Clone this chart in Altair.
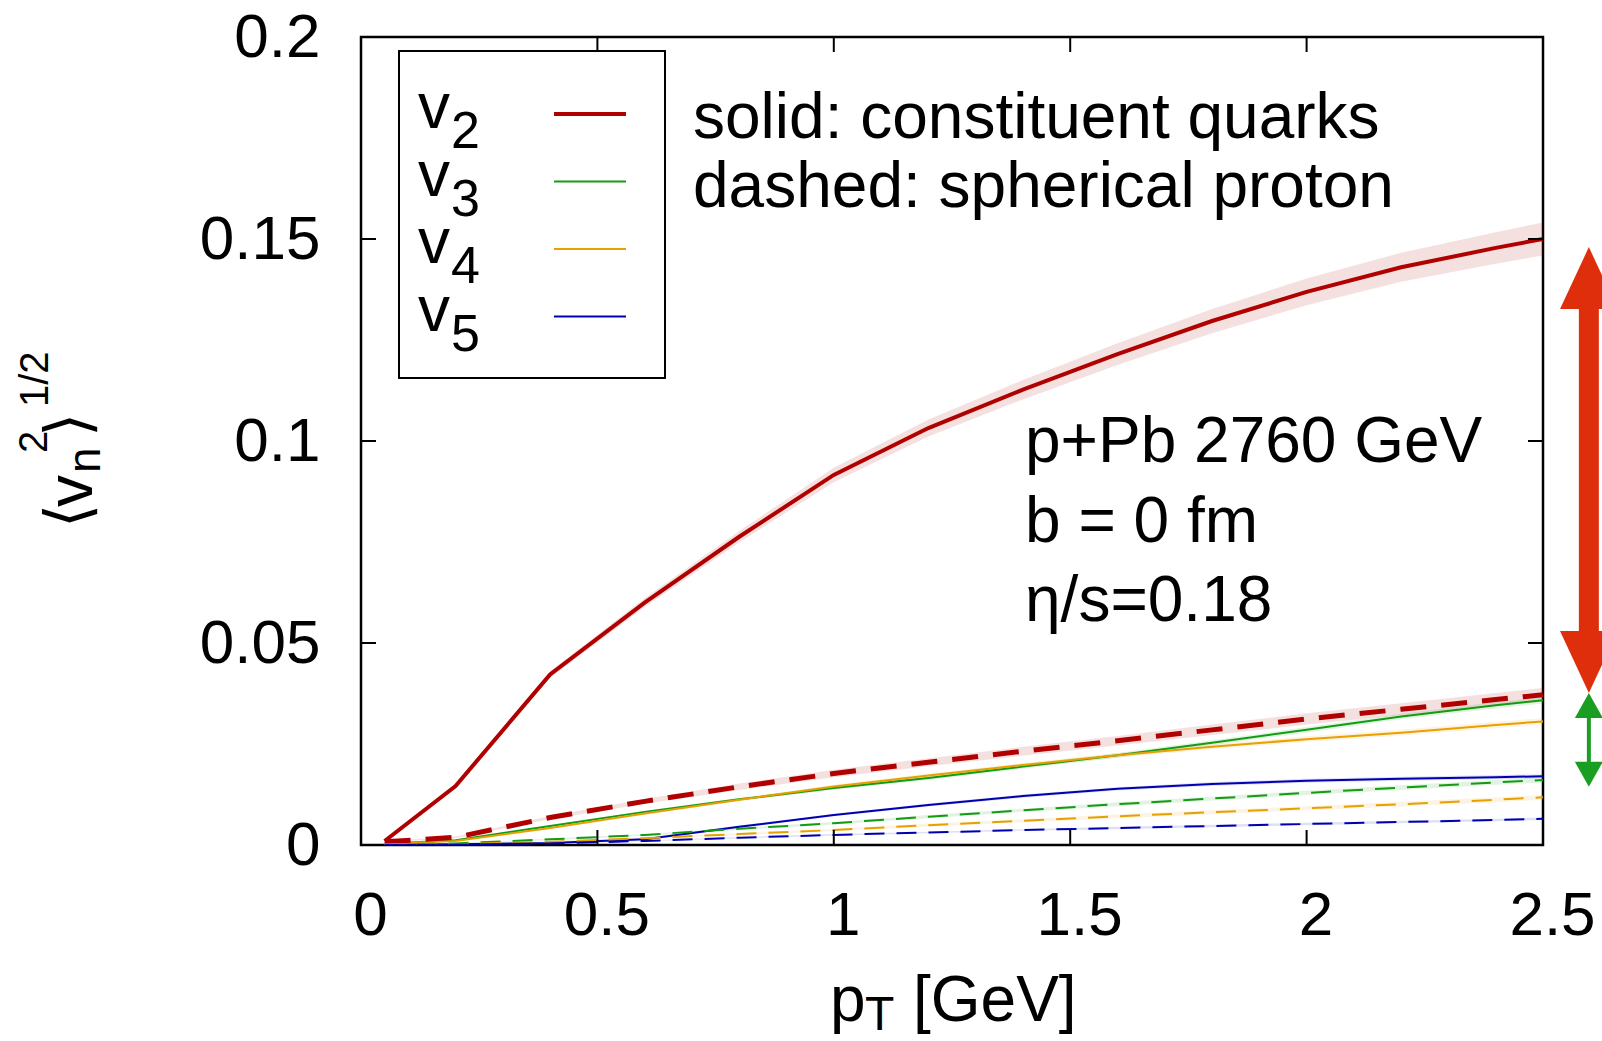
import altair as alt
import pandas as pd

FONT = "Liberation Sans"

# ---------------- data ----------------
pt = [0.05, 0.2, 0.4, 0.6, 0.8, 1.0, 1.2, 1.4, 1.6, 1.8, 2.0, 2.2, 2.4, 2.5]

v2_solid = [0.0010, 0.0146, 0.0422, 0.0600, 0.0763, 0.0916, 0.1032, 0.1127, 0.1215, 0.1297, 0.1369, 0.1430, 0.1478, 0.1500]
v3_solid = [0.0003, 0.0012, 0.0047, 0.0082, 0.0113, 0.0141, 0.0166, 0.0194, 0.0222, 0.0253, 0.0285, 0.0318, 0.0346, 0.0358]
v4_solid = [0.0003, 0.0010, 0.0042, 0.0078, 0.0112, 0.0145, 0.0172, 0.0198, 0.0222, 0.0243, 0.0262, 0.0278, 0.0297, 0.0306]
v5_solid = [0.0000, 0.0002, 0.0005, 0.0014, 0.0045, 0.0074, 0.0099, 0.0121, 0.0139, 0.0151, 0.0159, 0.0164, 0.0168, 0.0170]

v2_dashed = [0.0008, 0.0019, 0.0068, 0.0108, 0.0144, 0.0177, 0.0205, 0.0232, 0.0258, 0.0285, 0.0312, 0.0336, 0.0360, 0.0372]
v3_dashed = [0.0001, 0.0004, 0.0014, 0.0025, 0.0040, 0.0054, 0.0070, 0.0086, 0.0101, 0.0115, 0.0129, 0.0142, 0.0155, 0.0161]
v4_dashed = [0.0001, 0.0002, 0.0008, 0.0017, 0.0027, 0.0037, 0.0049, 0.0060, 0.0071, 0.0081, 0.0091, 0.0101, 0.0112, 0.0118]
v5_dashed = [0.0000, 0.0001, 0.0004, 0.0010, 0.0018, 0.0025, 0.0031, 0.0037, 0.0042, 0.0047, 0.0052, 0.0057, 0.0062, 0.0065]

v2_solid_err = [0.0002, 0.0004, 0.0008, 0.0011, 0.0014, 0.0018, 0.0021, 0.0024, 0.0027, 0.0030, 0.0033, 0.0036, 0.0039, 0.0041]
v3_solid_err = [0.0000, 0.0001, 0.0002, 0.0003, 0.0004, 0.0004, 0.0005, 0.0005, 0.0006, 0.0006, 0.0007, 0.0007, 0.0008, 0.0008]
v4_solid_err = [0.0000, 0.0001, 0.0002, 0.0003, 0.0004, 0.0004, 0.0005, 0.0005, 0.0006, 0.0006, 0.0007, 0.0007, 0.0008, 0.0008]
v5_solid_err = [0.0000, 0.0001, 0.0001, 0.0002, 0.0003, 0.0003, 0.0004, 0.0004, 0.0004, 0.0005, 0.0005, 0.0005, 0.0005, 0.0005]
v2_dashed_err = [0.0001, 0.0002, 0.0004, 0.0006, 0.0008, 0.0009, 0.0010, 0.0011, 0.0012, 0.0013, 0.0014, 0.0015, 0.0016, 0.0017]
v3_dashed_err = [0.0000, 0.0001, 0.0002, 0.0002, 0.0003, 0.0003, 0.0004, 0.0004, 0.0005, 0.0005, 0.0005, 0.0006, 0.0006, 0.0006]
v4_dashed_err = [0.0000, 0.0001, 0.0002, 0.0002, 0.0003, 0.0003, 0.0004, 0.0004, 0.0005, 0.0005, 0.0005, 0.0006, 0.0006, 0.0006]
v5_dashed_err = [0.0000, 0.0001, 0.0001, 0.0001, 0.0002, 0.0002, 0.0002, 0.0002, 0.0003, 0.0003, 0.0003, 0.0003, 0.0003, 0.0003]

harmonics = ["2", "3", "4", "5"]
colors = {"2": "#b00000", "3": "#129c12", "4": "#e8a000", "5": "#0000b0"}

x_ticks = [0, 0.5, 1, 1.5, 2, 2.5]
y_ticks = [0, 0.05, 0.1, 0.15, 0.2]

style_text = ["solid: constituent quarks", "dashed: spherical proton"]
system_text = ["p+Pb 2760 GeV", "b = 0 fm", "\u03b7/s=0.18"]

arrow_pt = [2.597]
red_arrow = [0.148, 0.0376]
green_arrow = [0.0376, 0.0144]

# ---------------- layout ----------------
W, H = 1182, 808
xscale = alt.Scale(domain=[0, 2.5], nice=False, zero=False)
yscale = alt.Scale(domain=[0, 0.2], nice=False, zero=False)
xaxis = alt.Axis(values=x_ticks, format="~g", title=None, domain=False, ticks=False, tickSize=0,
                 grid=False, labelFont=FONT, labelFontSize=62, labelColor="black",
                 labelPadding=40, labelOffset=9, labelFlush=False, labelOverlap=False)
yaxis = alt.Axis(values=y_ticks, format="~g", title=None, domain=False, ticks=False, tickSize=0,
                 grid=False, labelFont=FONT, labelFontSize=62, labelColor="black",
                 labelPadding=41, labelFlush=False, labelOverlap=False)


def X(f):
    return alt.X(f, type="quantitative", scale=xscale, axis=xaxis)


def Y(f):
    return alt.Y(f, type="quantitative", scale=yscale, axis=yaxis)


series = [
    ("2", "solid", v2_solid, v2_solid_err),
    ("3", "solid", v3_solid, v3_solid_err),
    ("4", "solid", v4_solid, v4_solid_err),
    ("5", "solid", v5_solid, v5_solid_err),
    ("2", "dashed", v2_dashed, v2_dashed_err),
    ("3", "dashed", v3_dashed, v3_dashed_err),
    ("4", "dashed", v4_dashed, v4_dashed_err),
    ("5", "dashed", v5_dashed, v5_dashed_err),
]

bands, lines = [], []
for h, sty, vals, err in series:
    df = pd.DataFrame({
        "pt": pt, "v": vals,
        "lo": [a - e for a, e in zip(vals, err)],
        "hi": [a + e for a, e in zip(vals, err)],
    })
    c = colors[h]
    bands.append(alt.Chart(df).mark_area(color=c, opacity=0.12, clip=True).encode(
        x=X("pt"), y=Y("lo"), y2=alt.Y2("hi")))
    if sty == "solid":
        lw = 4 if h == "2" else 2
        ln = alt.Chart(df).mark_line(color=c, strokeWidth=lw, clip=True)
    else:
        if h == "2":
            ln = alt.Chart(df).mark_line(color=c, strokeWidth=5, strokeDash=[26, 15], clip=True)
        else:
            ln = alt.Chart(df).mark_line(color=c, strokeWidth=2, strokeDash=[20, 12], clip=True)
    lines.append(ln.encode(x=X("pt"), y=Y("v")))

# inward ticks on all four sides
xt = pd.DataFrame({"t": x_ticks})
yt = pd.DataFrame({"t": y_ticks})
tick_layers = [
    alt.Chart(xt).mark_rule(color="black", strokeWidth=2).encode(x=X("t"), y=alt.value(H), y2=alt.value(H - 15)),
    alt.Chart(xt).mark_rule(color="black", strokeWidth=2).encode(x=X("t"), y=alt.value(0), y2=alt.value(15)),
    alt.Chart(yt).mark_rule(color="black", strokeWidth=2).encode(y=Y("t"), x=alt.value(0), x2=alt.value(15)),
    alt.Chart(yt).mark_rule(color="black", strokeWidth=2).encode(y=Y("t"), x=alt.value(W), x2=alt.value(W - 15)),
]

# key box
key_box = alt.Chart(pd.DataFrame({"k": [0]})).mark_rect(
    fill="white", stroke="black", strokeWidth=2).encode(
    x=alt.value(38), x2=alt.value(304), y=alt.value(14), y2=alt.value(341))

key_v = alt.Chart(pd.DataFrame({"label": ["\n".join(["v"] * 4)]})).mark_text(
    align="left", baseline="alphabetic", font=FONT, fontSize=64, lineBreak="\n",
    lineHeight=67.5, color="black").encode(x=alt.value(57), y=alt.value(91), text="label:N")
key_sub = alt.Chart(pd.DataFrame({"label": ["\n".join(harmonics)]})).mark_text(
    align="left", baseline="alphabetic", font=FONT, fontSize=52, lineBreak="\n",
    lineHeight=67.5, color="black").encode(x=alt.value(90), y=alt.value(111), text="label:N")
key_lines = []
for i, h in enumerate(harmonics):
    key_lines.append(alt.Chart(pd.DataFrame({"k": [h]})).mark_rule(
        color=colors[h], strokeWidth=4 if h == "2" else 2).encode(
        x=alt.value(193), x2=alt.value(265), y=alt.value(77 + i * 67.5)))

# annotations
ann_style = alt.Chart(pd.DataFrame({"label": ["\n".join(style_text)]})).mark_text(
    align="left", baseline="alphabetic", font=FONT, fontSize=64, lineBreak="\n",
    lineHeight=69, color="black").encode(x=alt.value(332), y=alt.value(101), text="label:N")
ann_sys = alt.Chart(pd.DataFrame({"label": ["\n".join(system_text)]})).mark_text(
    align="left", baseline="alphabetic", font=FONT, fontSize=64, lineBreak="\n",
    lineHeight=79.5, color="black").encode(x=alt.value(664), y=alt.value(425), text="label:N")

# arrows to the right of the frame
red_df = pd.DataFrame({"x": arrow_pt, "top": [red_arrow[0]], "bot": [red_arrow[1]]})
grn_df = pd.DataFrame({"x": arrow_pt, "top": [green_arrow[0]], "bot": [green_arrow[1]]})
RED, GRN = "#df2e0c", "#1a9e22"
arrows = [
    alt.Chart(red_df).mark_rule(color=RED, strokeWidth=20, clip=False, yOffset=50, y2Offset=-50).encode(
        x=X("x"), y=Y("top"), y2=alt.Y2("bot")),
    alt.Chart(red_df).mark_point(shape="M0,0L-0.93,2L0.93,2Z", size=3844, filled=True, opacity=1,
                                 color=RED, strokeWidth=0, clip=False).encode(x=X("x"), y=Y("top")),
    alt.Chart(red_df).mark_point(shape="M0,0L-0.93,-2L0.93,-2Z", size=3844, filled=True, opacity=1,
                                 color=RED, strokeWidth=0, clip=False).encode(x=X("x"), y=Y("bot")),
    alt.Chart(grn_df).mark_rule(color=GRN, strokeWidth=4, clip=False, yOffset=20, y2Offset=-20).encode(
        x=X("x"), y=Y("top"), y2=alt.Y2("bot")),
    alt.Chart(grn_df).mark_point(shape="M0,0L-1.12,2L1.12,2Z", size=625, filled=True, opacity=1,
                                 color=GRN, strokeWidth=0, clip=False).encode(x=X("x"), y=Y("top")),
    alt.Chart(grn_df).mark_point(shape="M0,0L-1.12,-2L1.12,-2Z", size=625, filled=True, opacity=1,
                                 color=GRN, strokeWidth=0, clip=False).encode(x=X("x"), y=Y("bot")),
]

# axis titles built from pieces (sub/superscripts)
def txt(s, x, y, size, angle=0, font=FONT):
    kw = dict(align="left", baseline="alphabetic", font=font, fontSize=size, color="black")
    if angle:
        kw["angle"] = angle
    return alt.Chart(pd.DataFrame({"label": [s]})).mark_text(**kw).encode(
        x=alt.value(x), y=alt.value(y), text="label:N")

x_title = [
    txt("p", 469, 984, 64),
    txt("T", 504, 993, 48),
    txt("[GeV]", 552, 984, 64),
]
y_title = [
    txt("\u27e8", -272, 491, 62, 270, "DejaVu Sans"),
    txt("v", -269, 470, 64, 270),
    txt("n", -261, 436, 46, 270),
    txt("2", -314, 416, 40, 270),
    txt("\u27e9", -272, 400, 62, 270, "DejaVu Sans"),
    txt("1/2", -313, 370, 40, 270),
]

chart = alt.layer(
    *bands, *lines, *tick_layers, key_box, *key_lines, key_v, key_sub,
    ann_style, ann_sys, *arrows, *x_title, *y_title
).properties(
    width=W, height=H,
    autosize=alt.AutoSizeParams(type="none"),
    padding={"left": 361, "top": 37, "right": 59, "bottom": 196},
    background="white",
).configure_view(stroke="black", strokeWidth=2.5)

chart.save("out.html", embed_options={"renderer": "svg", "actions": False})
